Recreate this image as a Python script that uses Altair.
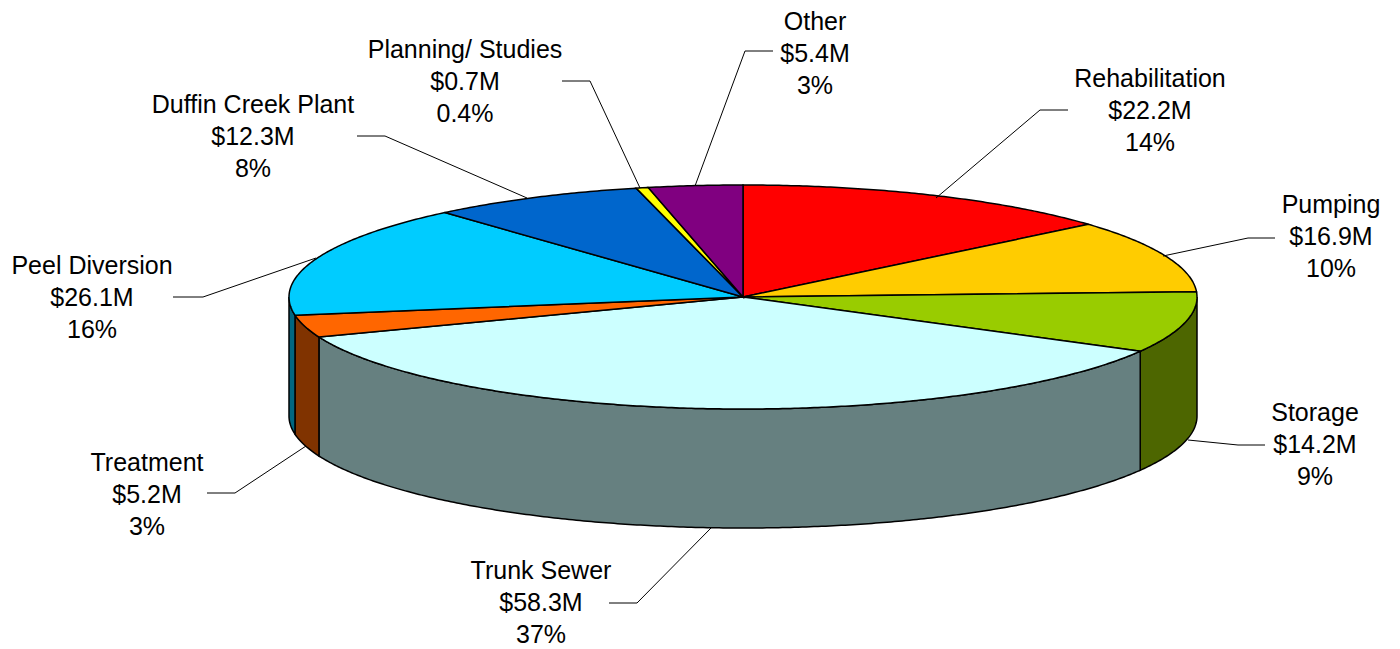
import math
import altair as alt

names = ["Rehabilitation", "Pumping", "Storage", "Trunk Sewer", "Treatment",
         "Peel Diversion", "Duffin Creek Plant", "Planning/ Studies", "Other"]
values = [22.2, 16.9, 14.2, 58.3, 5.2, 26.1, 12.3, 0.7, 5.4]
percents = ["14%", "10%", "9%", "37%", "3%", "16%", "8%", "0.4%", "3%"]
top_colors = ["#FF0000", "#FFCC00", "#99CC00", "#CCFFFF", "#FF6600",
              "#00CCFF", "#0066CC", "#FFFF00", "#800080"]
side_colors = ["#800000", "#806600", "#4D6600", "#668080", "#803300",
               "#006680", "#003366", "#808000", "#400040"]
# label centre x and first-line y, chart pixels
label_x = [1142, 1323, 1307, 533, 139, 84, 245, 457, 807]
label_y = [71, 197, 405, 563, 455, 258, 97, 42, 14]
# leader polylines, chart pixels
leaders = [
    [(1060, 102), (1032, 102), (928, 190)],
    [(1267, 230), (1240, 230), (1155, 248)],
    [(1257, 437), (1230, 437), (1180, 432)],
    [(601, 595), (629, 595), (703, 520)],
    [(199, 485), (227, 485), (298, 438)],
    [(165, 289), (195, 289), (308, 250)],
    [(349, 128), (377, 128), (519, 190)],
    [(554, 73), (582, 73), (632, 180)],
    [(765, 43), (737, 43), (687, 178)],
]

W, H = 1384, 633
CX, CY, RX, RY, DEPTH = 735, 289, 454, 112, 119
FONT = "Liberation Sans"


def pt(t, dy=0.0):
    r = math.radians(t)
    return [CX + RX * math.sin(r), CY - RY * math.cos(r) + dy]


def arc(t1, t2, dy=0.0):
    n = max(2, int(abs(t2 - t1)) * 2 + 1)
    return [pt(t1 + (t2 - t1) * i / (n - 1), dy) for i in range(n)]


def flip(points):
    return [[x, H - y] for x, y in points]


total = sum(values)
features_side, features_top = [], []
cum = 0.0
for name, v, c, sc in zip(names, values, top_colors, side_colors):
    t1 = cum / total * 360
    cum += v
    t2 = cum / total * 360
    ring = flip([[CX, CY]] + arc(t1, t2) + [[CX, CY]])
    features_top.append({"type": "Feature", "properties": {"name": name, "color": c},
                         "geometry": {"type": "Polygon", "coordinates": [ring[::-1]]}})
    a, b = max(t1, 90), min(t2, 270)
    if a < b:
        side = arc(a, b) + arc(b, a, DEPTH)
        side.append(side[0])
        features_side.append({"type": "Feature", "properties": {"name": name, "color": sc},
                              "geometry": {"type": "Polygon", "coordinates": [flip(side)[::-1]]}})


def shapes(features):
    return (alt.Chart(alt.Data(values=features))
            .mark_geoshape(stroke="#000000", strokeWidth=1.5)
            .encode(fill=alt.Color("properties.color:N", scale=None))
            .project(type="identity", reflectY=True, scale=1, translate=[0, H]))


xs = alt.X("x:Q", scale=alt.Scale(domain=[0, W], range=[0, W]), axis=None)
ys = alt.Y("y:Q", scale=alt.Scale(domain=[0, H], range=[0, H]), axis=None)

leader_rows = []
for name, line in zip(names, leaders):
    for i, (x, y) in enumerate(line):
        leader_rows.append({"name": name, "i": i, "x": x, "y": y})
leader_layer = (alt.Chart(alt.Data(values=leader_rows))
                .mark_line(color="#000000", strokeWidth=1)
                .encode(x=xs, y=ys, detail="name:N", order="i:Q"))

text_rows = []
for name, v, p, x, y in zip(names, values, percents, label_x, label_y):
    for i, s in enumerate([name, f"${v:.1f}M", p]):
        text_rows.append({"t": s, "x": x, "y": y + i * 32})
text_layer = (alt.Chart(alt.Data(values=text_rows))
              .mark_text(font=FONT, fontSize=25, color="#000000", align="center", baseline="middle")
              .encode(x=xs, y=ys, text="t:N"))

chart = (alt.layer(shapes(features_side), shapes(features_top), leader_layer, text_layer)
         .resolve_scale(color="independent")
         .properties(width=W, height=H, padding=0, background="#FFFFFF")
         .configure_view(stroke=None))
chart.save("out.html", embed_options={"renderer": "svg", "actions": False})
